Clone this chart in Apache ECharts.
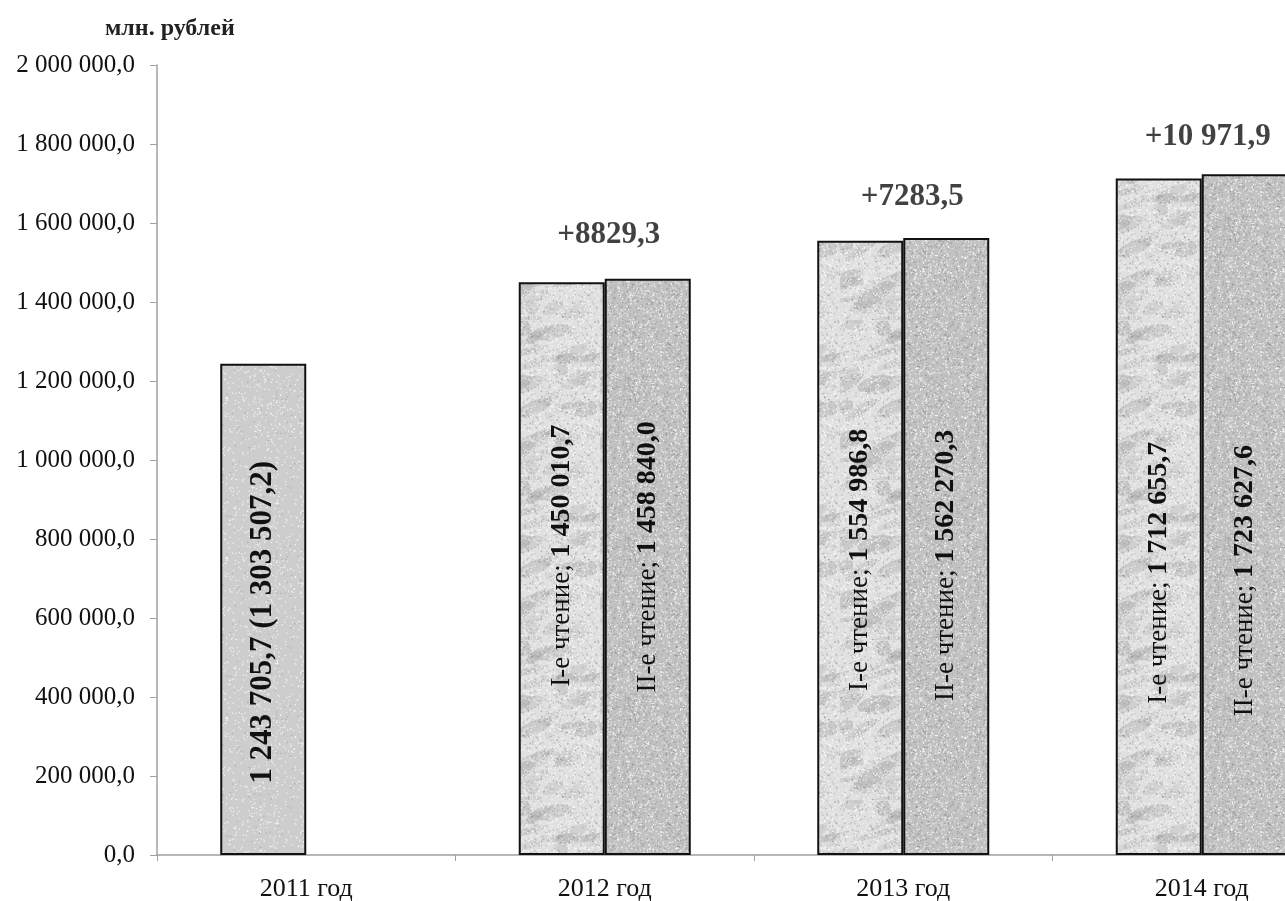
<!DOCTYPE html>
<html>
<head>
<meta charset="utf-8">
<script src="https://cdn.jsdelivr.net/npm/echarts@6/dist/echarts.min.js"></script>
<style>
html,body{margin:0;padding:0;background:#fff;}
#chart{width:1285px;height:901px;}
</style>
</head>
<body>
<div id="chart"></div>
<script>
// ---- data ----
var categories = ['2011 год', '2012 год', '2013 год', '2014 год'];
var readingI = [1243705.7, 1450010.7, 1554986.8, 1712655.7];
var readingII = [null, 1458840.0, 1562270.3, 1723627.6];
var labelsI = ['1 243 705,7 (1 303 507,2)', '1 450 010,7', '1 554 986,8', '1 712 655,7'];
var labelsII = ['', '1 458 840,0', '1 562 270,3', '1 723 627,6'];
var diffLabels = ['', '+8829,3', '+7283,5', '+10 971,9'];
var unitLabel = 'млн. рублей';
var nameI = 'I-е чтение; ';
var nameII = 'II-е чтение; ';

// ---- textures (deterministic) ----
function makeRng(seed){var s=seed>>>0;return function(){s=(s*1664525+1013904223)>>>0;return s/4294967296;};}
function texture(base, seed, opts){
  var c=document.createElement('canvas');c.width=120;c.height=160;
  var g=c.getContext('2d');g.fillStyle=base;g.fillRect(0,0,c.width,c.height);
  var r=makeRng(seed);
  if(opts.blots){
    for(var i=0;i<opts.blots;i++){
      var x=r()*c.width,y=r()*c.height,w=6+r()*22,h=2+r()*6;
      g.fillStyle='rgba(150,150,150,'+(0.12+r()*0.2)+')';
      g.save();g.translate(x,y);g.rotate(-0.6+r()*0.5);
      g.beginPath();g.ellipse(0,0,w,h,0,0,Math.PI*2);g.fill();g.restore();
    }
  }
  for(var j=0;j<opts.dots;j++){
    var dx=r()*c.width,dy=r()*c.height;
    var v=r();
    g.fillStyle=v<opts.light?'rgba(255,255,255,0.8)':'rgba(90,90,90,0.3)';
    g.fillRect(dx,dy,1.2,1.2);
  }
  return {image:c,repeat:'repeat'};
}
var texI = texture('#e0e0e0', 7, {blots:40, dots:2600, light:0.55});
var texII = texture('#c2c2c2', 19, {dots:3200, light:0.5});
var tex2011 = texture('#cdcdcd', 31, {dots:900, light:0.85});

function fmt(v){
  var s=Math.round(v).toString().replace(/\B(?=(\d{3})+(?!\d))/g,' ');
  return s+',0';
}

var serif='"Liberation Serif","Times New Roman",serif';

// downward nudges (screen px) of the rotated in-bar labels (styling only)
var shiftI=[13,-13,12,56];
var shiftII=[0,-10,19,66];

var dataI = readingI.map(function(v,i){
  var item={value:v,label:{offset:[-shiftI[i],0]}};
  if(i===0){
    item.itemStyle={color:tex2011};
    item.label.formatter='{c|'+labelsI[0]+'}';
  }
  return item;
});
var dataII = readingII.map(function(v,i){
  return v==null?null:{value:v,label:{offset:[-shiftII[i],0]}};
});
var annotOffsets=[[0,0],[4,-44],[9,-41],[6,-37]];
var dataDiff = readingII.map(function(v,i){
  if(v==null) return null;
  return {value:v,label:{offset:annotOffsets[i]}};
});

var richText={
  n:{fontFamily:serif,fontSize:27,color:'#111'},
  b:{fontFamily:serif,fontSize:28,fontWeight:'bold',color:'#111'},
  c:{fontFamily:serif,fontSize:31,fontWeight:'bold',color:'#111'}
};

var chart=echarts.init(document.getElementById('chart'));
chart.setOption({
  animation:false,
  backgroundColor:'#fff',
  title:{text:unitLabel,left:100,top:12,textStyle:{fontFamily:serif,fontSize:24,fontWeight:'bold',color:'#222'}},
  grid:{left:157,top:65,width:1194,height:790,containLabel:false,outerBoundsMode:'none'},
  xAxis:{
    type:'category',data:categories,
    axisLine:{lineStyle:{color:'#a0a0a0',width:1.5}},
    axisTick:{show:true,alignWithLabel:false,length:6,lineStyle:{color:'#a0a0a0'}},
    axisLabel:{fontFamily:serif,fontSize:26,color:'#111',margin:21}
  },
  yAxis:{
    type:'value',min:0,max:2000000,interval:200000,
    splitLine:{show:false},
    axisLine:{show:true,lineStyle:{color:'#a0a0a0',width:1.5}},
    axisTick:{show:true,length:7,lineStyle:{color:'#a0a0a0'}},
    axisLabel:{fontFamily:serif,fontSize:25,color:'#111',margin:22,formatter:fmt}
  },
  series:[
    {
      type:'bar',data:dataI,barWidth:86,barGap:'0%',
      itemStyle:{color:texI,borderColor:'#111',borderWidth:2},
      label:{show:true,position:'inside',rotate:90,
        formatter:function(p){return '{n|'+nameI+'}{b|'+labelsI[p.dataIndex]+'}';},
        rich:richText
      }
    },
    {
      type:'bar',data:dataII,barWidth:86,barGap:'0%',
      itemStyle:{color:texII,borderColor:'#111',borderWidth:2},
      label:{show:true,position:'inside',rotate:90,
        formatter:function(p){return '{n|'+nameII+'}{b|'+labelsII[p.dataIndex]+'}';},
        rich:richText
      }
    },
    {
      type:'scatter',data:dataDiff,symbolSize:0,silent:true,
      label:{show:true,position:'inside',
        formatter:function(p){return diffLabels[p.dataIndex];},
        fontFamily:serif,fontSize:31,fontWeight:'bold',color:'#111'}
    }
  ]
});
</script>
</body>
</html>
